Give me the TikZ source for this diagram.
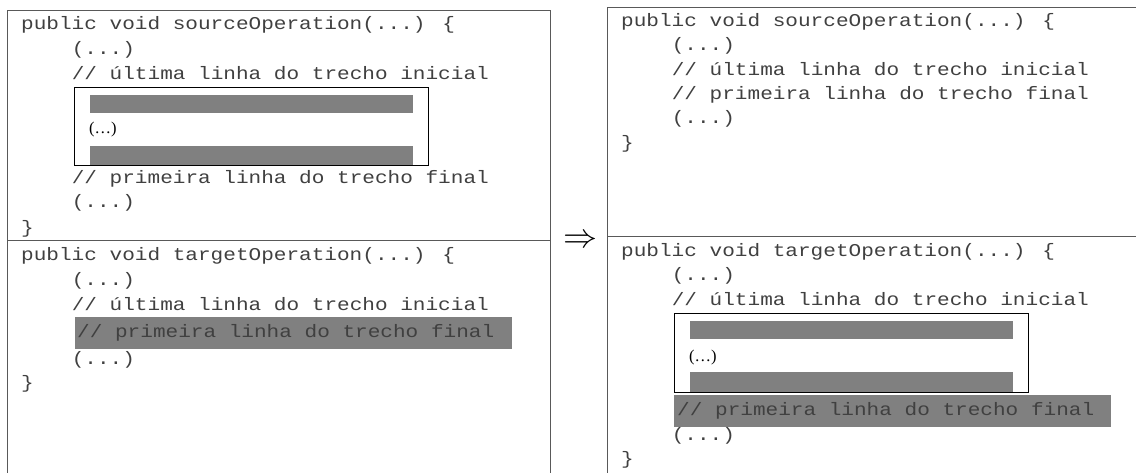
\documentclass[tikz,border=0pt]{standalone}
\usepackage{fontspec}
\newfontfamily\codefont[FakeStretch=1.17]{Liberation Mono}
\newfontfamily\elidefont{Liberation Serif}
\begin{document}
\begin{tikzpicture}[x=1pt,y=-1pt,
  code/.style={font=\codefont\fontsize{18}{21}\selectfont, text=black!75,
               anchor=base west, inner sep=0pt},
  elide/.style={font=\elidefont\fontsize{16.5}{18}\selectfont, anchor=base west, inner sep=0pt},
  frame/.style={draw=black!65, line width=1pt},
  cutbox/.style={draw=black, line width=0.9pt},
  bar/.style={fill=black!50},
  arrowsym/.style={scale=3.4, inner sep=0pt}]
\useasboundingbox (0,0) rectangle (1136,472);
\clip (0,0) rectangle (1136,472);

% ---------------- before: source and target operations ----------------
\draw[frame] (7.5,10) rectangle (550,240);
\draw[frame] (7.5,240) rectangle (550,490);

\node[code] (ls1) at (21,29)    {public void sourceOperation(...) \{};
\node[code] (ls2) at (71.6,54)  {(...)};
\node[code] (ls3) at (71.6,79)  {// última linha do trecho inicial};
\fill[bar] (90,95) rectangle (413,113);
\node[elide] (ls4) at (89,133) {(…)};
\fill[bar] (90,146) rectangle (413,165);
\draw[cutbox] (74,87) rectangle (428,165);
\node[code] (ls5) at (71.6,183) {// primeira linha do trecho final};
\node[code] (ls6) at (71.6,207) {(...)};
\node[code] (ls7) at (21,233)   {\}};

\node[code] (lt1) at (21,260)   {public void targetOperation(...) \{};
\node[code] (lt2) at (71.6,285) {(...)};
\node[code] (lt3) at (71.6,310) {// última linha do trecho inicial};
\fill[bar] (75,317) rectangle (512,349);
\node[code] (lt4) at (77,337)   {// primeira linha do trecho final};
\node[code] (lt5) at (71.6,364) {(...)};
\node[code] (lt6) at (21,388)   {\}};

% ---------------- transformation arrow ----------------
\node[arrowsym] (arrow) at (580,241) {$\Rightarrow$};

% ---------------- after: source and target operations ----------------
\draw[frame] (607,7.5) rectangle (1150,236.5);
\draw[frame] (607,236.5) rectangle (1150,490);

\node[code] (rs1) at (621,26)    {public void sourceOperation(...) \{};
\node[code] (rs2) at (671.6,50)  {(...)};
\node[code] (rs3) at (671.6,75)  {// última linha do trecho inicial};
\node[code] (rs4) at (671.6,99)  {// primeira linha do trecho final};
\node[code] (rs5) at (671.6,123) {(...)};
\node[code] (rs6) at (621,148)   {\}};

\node[code] (rt1) at (621,256)   {public void targetOperation(...) \{};
\node[code] (rt2) at (671.6,280) {(...)};
\node[code] (rt3) at (671.6,305) {// última linha do trecho inicial};
\fill[bar] (690,321) rectangle (1013,339);
\node[elide] (rt4) at (689,361) {(…)};
\fill[bar] (690,372) rectangle (1013,392);
\draw[cutbox] (674,313) rectangle (1028,392);
\fill[bar] (674,395) rectangle (1111,427);
\node[code] (rt5) at (677,415)   {// primeira linha do trecho final};
\node[code] (rt6) at (671.6,440) {(...)};
\node[code] (rt7) at (621,464)   {\}};
\end{tikzpicture}
\end{document}
